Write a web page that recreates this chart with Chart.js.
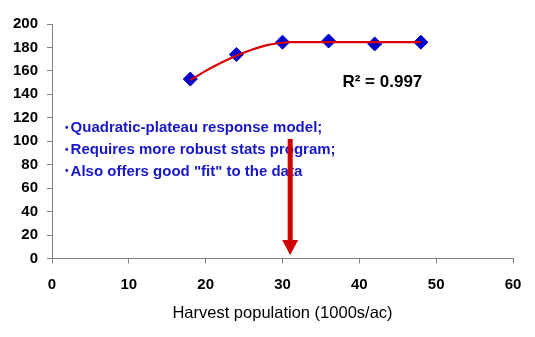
<!DOCTYPE html>
<html>
<head>
<meta charset="utf-8">
<script src="https://cdn.jsdelivr.net/npm/chart.js@4/dist/chart.umd.min.js"></script>
<style>
  html, body { margin: 0; padding: 0; background: #fff; }
  #wrap { width: 535px; height: 337px; }
</style>
</head>
<body>
<div id="wrap"><canvas id="myChart" width="535" height="337"></canvas></div>
<script>
// observed yields
const populations = [18, 24, 30, 36, 42, 48];
const yields = [153, 174, 184.5, 185.5, 183, 184.5];

// quadratic-plateau fit
const fitX = [18, 20, 22, 24, 26, 28, 30, 31, 48];
const fitY = [152, 160, 167, 173, 178, 182, 184, 184.5, 184.5];

const xTicks = [0, 10, 20, 30, 40, 50, 60];
const yTicks = [0, 20, 40, 60, 80, 100, 120, 140, 160, 180, 200];

const notes = [
  'Quadratic-plateau response model;',
  'Requires more robust stats program;',
  'Also offers good "fit" to the data'
];
const r2Label = 'R\u00B2 = 0.997';
const optimum = 31;

const toXY = (xs, ys) => xs.map((x, i) => ({ x: x, y: ys[i] }));

const extras = {
  id: 'extras',
  afterDatasetsDraw(chart) {
    const { ctx, scales: { x, y } } = chart;
    ctx.save();
    // text notes with small bullets
    ctx.fillStyle = '#1717C8';
    ctx.textBaseline = 'middle';
    ctx.textAlign = 'left';
    const noteY = [111.5, 92.5, 74];
    const nx = x.getPixelForValue(1.7);
    notes.forEach((t, i) => {
      const ny = y.getPixelForValue(noteY[i]);
      ctx.font = 'bold 10px "Liberation Sans", Arial, sans-serif';
      ctx.fillText('\u2022', nx, ny);
      ctx.font = 'bold 15px "Liberation Sans", Arial, sans-serif';
      ctx.fillText(t, nx + 5.5, ny);
    });
    // R squared
    ctx.font = 'bold 17px "Liberation Sans", Arial, sans-serif';
    ctx.fillStyle = '#000';
    ctx.textAlign = 'center';
    ctx.fillText(r2Label, x.getPixelForValue(43), y.getPixelForValue(150));
    // arrow at the plateau join
    const ax = x.getPixelForValue(optimum);
    const top = y.getPixelForValue(102);
    const tip = y.getPixelForValue(3);
    ctx.fillStyle = '#D00000';
    ctx.fillRect(ax - 2.5, top, 5, tip - top - 14);
    ctx.beginPath();
    ctx.moveTo(ax - 8, tip - 15);
    ctx.lineTo(ax + 8, tip - 15);
    ctx.lineTo(ax, tip);
    ctx.closePath();
    ctx.fill();
    ctx.restore();
  }
};

const tickFont = { family: '"Liberation Sans", Arial, sans-serif', size: 15, weight: 'bold' };

new Chart(document.getElementById('myChart'), {
  type: 'scatter',
  data: {
    datasets: [
      {
        label: 'fit',
        data: toXY(fitX, fitY),
        showLine: true,
        borderColor: '#D80000',
        borderWidth: 2.2,
        pointRadius: 0,
        cubicInterpolationMode: 'monotone'
      },
      {
        label: 'observed',
        data: toXY(populations, yields),
        pointStyle: 'rectRot',
        pointRadius: 7,
        backgroundColor: '#0000CC',
        borderColor: '#0000CC',
        borderWidth: 1
      }
    ]
  },
  options: {
    responsive: false,
    animation: false,
    layout: { padding: { top: 24, right: 22, left: 0, bottom: 0 } },
    plugins: { legend: { display: false }, tooltip: { enabled: false } },
    scales: {
      x: {
        type: 'linear',
        min: 0, max: 60,
        afterBuildTicks: s => { s.ticks = xTicks.map(v => ({ value: v })); },
        afterFit: s => { s.height = 78.5; },
        grid: { drawOnChartArea: false, tickLength: 5, color: '#808080' },
        border: { color: '#808080', width: 1 },
        ticks: { color: '#000', font: tickFont, padding: 12, maxRotation: 0 },
        title: {
          display: true,
          text: 'Harvest population (1000s/ac)',
          color: '#000',
          font: { family: '"Liberation Sans", Arial, sans-serif', size: 16.5 },
          padding: { top: 4, bottom: 14 }
        }
      },
      y: {
        min: 0, max: 200,
        afterBuildTicks: s => { s.ticks = yTicks.map(v => ({ value: v })); },
        afterFit: s => { s.width = 52; },
        grid: { drawOnChartArea: false, tickLength: 5, color: '#808080' },
        border: { color: '#808080', width: 1 },
        ticks: { color: '#000', font: tickFont, padding: 9 }
      }
    }
  },
  plugins: [extras]
});
</script>
</body>
</html>
